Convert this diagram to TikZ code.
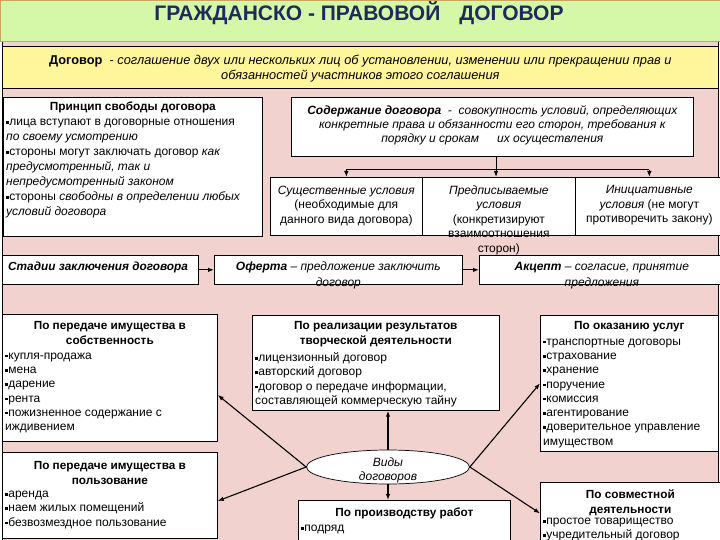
\documentclass[tikz,border=0pt]{standalone}
\usepackage{fontspec}
\setmainfont{Liberation Sans}
\usepackage{xcolor}
\usetikzlibrary{positioning, arrows.meta, shapes.geometric}

\definecolor{bgpink}{HTML}{F1D2CF}
\definecolor{bannergreen}{HTML}{D4F7A8}
\definecolor{defyellow}{HTML}{FFF69C}
\definecolor{titleblue}{HTML}{1B2B5C}
\definecolor{bannerline}{HTML}{C9A45A}

\newcommand{\bul}{\raisebox{0.3ex}{\rule{2.6pt}{2.6pt}}\hspace{0.6pt}}

\begin{document}
\begin{tikzpicture}[x=1pt, y=-1pt,
  frame/.style={draw=black, fill=white, line width=0.7pt, anchor=north west, inner sep=0pt},
  body/.style={anchor=north west, inner sep=0pt, align=left, font=\fontsize{12}{14.3}\selectfont},
  head/.style={anchor=north, inner sep=0pt, align=center, font=\bfseries\fontsize{11.8}{14.8}\selectfont},
  ctext/.style={anchor=north, inner sep=0pt, align=center, font=\fontsize{12}{14.5}\selectfont},
  tip/.style={-{Latex[length=6pt,width=4.5pt]}, line width=1.2pt},
  spoke/.style={-{Latex[length=6pt,width=4.5pt]}, line width=1.1pt}
]
   \useasboundingbox (0,0) rectangle (720,540);

   % фон и заголовок
   \fill[bgpink, draw=black, line width=0.6pt] (2,41) rectangle (718,541);
   \node[frame, fill=bannergreen, draw=bannerline, line width=1pt,
         minimum width=720pt, minimum height=41pt] (banner) at (0,0) {};
   \node[font=\bfseries\fontsize{21}{24}\selectfont, text=titleblue] (title) at (359,13.5)
        {ГРАЖДАНСКО - ПРАВОВОЙ\hspace{19pt}ДОГОВОР};

   % определение договора
   \node[frame, fill=defyellow, minimum width=716pt, minimum height=42pt] (defbox) at (2,46) {};
   \node[ctext, font=\fontsize{12.8}{15}\selectfont] (deftext) [below=9pt of defbox.north]
        {\textbf{Договор}\ \ - \textit{соглашение двух или нескольких лиц об установлении, изменении или прекращении прав и}\\
         \textit{обязанностей участников этого соглашения}};

   % принцип свободы договора
   \node[frame, minimum width=259pt, minimum height=139pt] (princ) at (3,97) {};
   \node[head] (princhd) [below=4.5pt of princ.north] {Принцип свободы договора};
   \node[body, font=\fontsize{12}{15}\selectfont] (princbd) [below right=22pt and 3pt of princ.north west]
        {\bul лица вступают в договорные отношения\\
         \textit{по своему усмотрению}\\
         \bul стороны могут заключать договор \textit{как}\\
         \textit{предусмотренный, так и}\\
         \textit{непредусмотренный законом}\\
         \bul стороны \textit{свободны в определении любых}\\
         \textit{условий договора}};

   % содержание договора
   \node[frame, minimum width=402pt, minimum height=59pt] (soder) at (291,97) {};
   \node[ctext, font=\itshape\fontsize{12}{14}\selectfont] (sodertx) [below=8.5pt of soder.north]
        {\textbf{Содержание договора}\ \ -\ \ совокупность условий, определяющих\\
         конкретные права и обязанности его сторон, требования к\\
         порядку и срокам\hspace{18pt}их осуществления};

   \node[frame, minimum width=152pt, minimum height=58pt] (ess) at (270,177) {};
   \node[frame, minimum width=153pt, minimum height=58pt] (presc) at (422,177) {};
   \node[frame, minimum width=148pt, minimum height=58pt] (init) at (575,177) {};
   \node[ctext] (esstx) [below=8.5pt of ess.north]
        {\textit{Существенные условия}\\(необходимые для\\данного вида договора)};
   \node[ctext] (presctx) [below=8.5pt of presc.north]
        {\textit{Предписываемые}\\\textit{условия}\\(конкретизируют\\взаимоотношения\\сторон)};
   \node[ctext] (inittx) [below=8.5pt of init.north]
        {\textit{Инициативные}\\\textit{условия} (не могут\\противоречить закону)};

   \coordinate (bus) at (496,170);
   \draw[line width=1pt] (bus -| ess.north) -- (bus -| init.north);
   \draw[tip, line width=1pt] (soder.south -| bus) -- (presc.north -| bus);
   \draw[tip, line width=1pt] (bus -| ess.north) -- (ess.north);
   \draw[tip, line width=1pt] (bus -| init.north) -- (init.north);

   % стадии заключения
   \node[frame, minimum width=196pt, minimum height=29pt] (stage) at (2,255) {};
   \node[frame, minimum width=248pt, minimum height=29pt] (offer) at (214,255) {};
   \node[frame, minimum width=245pt, minimum height=29pt] (accept) at (479,255) {};
   \node[body, font=\bfseries\itshape\fontsize{11.8}{14}\selectfont] (stagetx) [below right=7pt and 6pt of stage.north west]
        {Стадии заключения договора};
   \node[ctext, font=\itshape\fontsize{12}{16}\selectfont] (offertx) [below=7pt of offer.north]
        {\textbf{Оферта} – предложение заключить\\договор};
   \node[ctext, font=\itshape\fontsize{12}{16}\selectfont] (accepttx) [below=7pt of accept.north]
        {\textbf{Акцепт} – согласие, принятие\\предложения};
   \draw[tip] (stage.east) -- (offer.west);
   \draw[tip] (offer.east) -- (accept.west);

   % виды договоров
   \node[frame, minimum width=215pt, minimum height=127pt] (sobst) at (2,314) {};
   \node[head] (sobsthd) [below=7.5pt of sobst.north] {По передаче имущества в\\собственность};
   \node[body] (sobstbd) [below right=38.5pt and 3pt of sobst.north west]
        {\bul купля-продажа\\\bul мена\\\bul дарение\\\bul рента\\\bul пожизненное содержание с\\иждивением};

   \node[frame, minimum width=247pt, minimum height=95pt] (tvor) at (252,315) {};
   \node[head] (tvorhd) [below=6.5pt of tvor.north] {По реализации результатов\\творческой деятельности};
   \node[body] (tvorbd) [below right=37.5pt and 3pt of tvor.north west]
        {\bul лицензионный договор\\\bul авторский договор\\\bul договор о передаче информации,\\составляющей коммерческую тайну};

   \node[frame, minimum width=178pt, minimum height=136pt] (uslug) at (540,315) {};
   \node[head] (uslughd) [below=6.5pt of uslug.north] {По оказанию услуг};
   \node[body] (uslugbd) [below right=23.5pt and 3pt of uslug.north west]
        {\bul транспортные договоры\\\bul страхование\\\bul хранение\\\bul поручение\\\bul комиссия\\\bul агентирование\\\bul доверительное управление\\имуществом};

   \node[frame, minimum width=215pt, minimum height=86pt] (polz) at (2,452) {};
   \node[head] (polzhd) [below=9pt of polz.north] {По передаче имущества в\\пользование};
   \node[body] (polzbd) [below right=39pt and 3pt of polz.north west]
        {\bul аренда\\\bul наем жилых помещений\\\bul безвозмездное пользование};

   \node[frame, minimum width=212pt, minimum height=45pt] (rabot) at (298,500) {};
   \node[head] (rabothd) [below=8pt of rabot.north] {По производству работ};
   \node[body] (rabotbd) [below right=25pt and 3pt of rabot.north west] {\bul подряд};

   \node[frame, minimum width=180pt, minimum height=62pt] (sovm) at (540,482) {};
   \node[head] (sovmhd) [below=7.5pt of sovm.north] {По совместной\\деятельности};
   \node[body, font=\fontsize{12}{13.8}\selectfont] (sovmbd) [below right=36pt and 3pt of sovm.north west]
        {\bul простое товарищество\\\bul учредительный договор};

   \node[ellipse, draw=black, fill=white, line width=0.7pt, minimum width=163pt, minimum height=34pt,
         inner sep=0pt] (vidy) at (388,467) {};
   \node[ctext, font=\itshape\fontsize{12}{14}\selectfont] (vidytx) [below=7.5pt of vidy.north]
        {Виды\\договоров};

   \draw[spoke] (vidy.west) -- (sobst.-9);
   \draw[spoke] (vidy.west) -- (polz.-3);
   \draw[tip] (vidy.north) -- (vidy.north |- tvor.south);
   \draw[tip] (vidy.south) -- (vidy.south |- rabot.north);
   \draw[spoke] (vidy.east) -- (uslug.west);
   \draw[spoke] (vidy.east) -- (sovm.west);
\end{tikzpicture}
\end{document}
